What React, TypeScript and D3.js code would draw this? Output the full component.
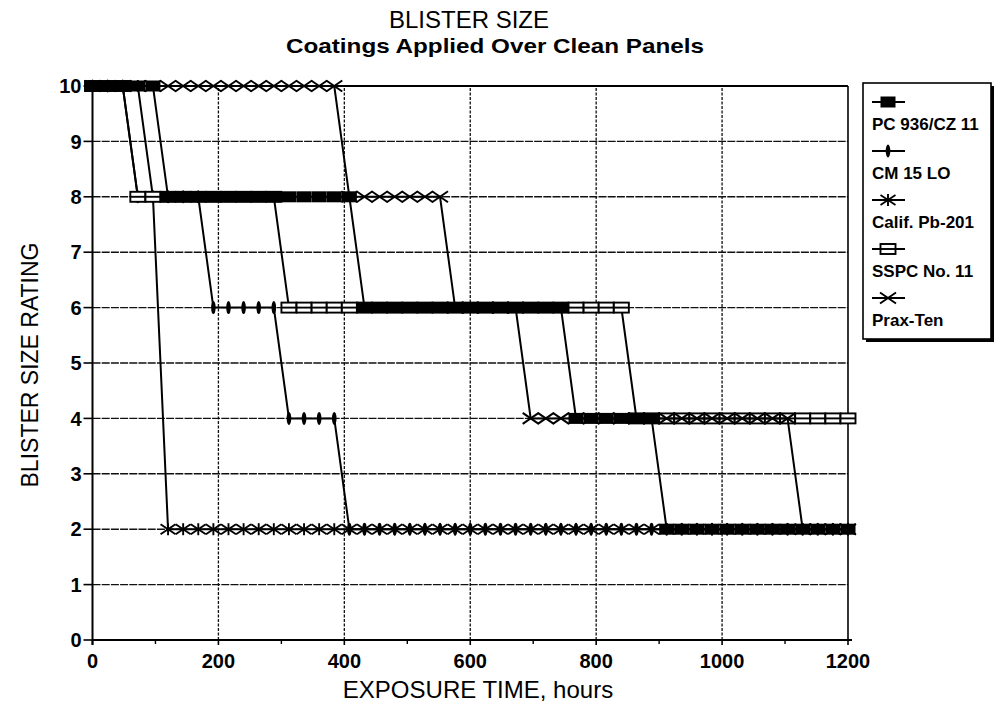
import React from 'react';
import * as d3 from 'd3';

// Measurement times (hours)
const hours = [0, 24, 48, 72, 96, 120, 144, 168, 192, 216, 240, 264, 288, 312, 336, 360, 384, 408, 432, 456, 480, 504, 528, 552, 576, 600, 624, 648, 672, 696, 720, 744, 768, 792, 816, 840, 864, 888, 912, 936, 960, 984, 1008, 1032, 1056, 1080, 1104, 1128, 1152, 1176, 1200];

// Blister size ratings at each measurement time
const pc936 = [10, 10, 10, 10, 10, 8, 8, 8, 8, 8, 8, 8, 8, 8, 8, 8, 8, 8, 6, 6, 6, 6, 6, 6, 6, 6, 6, 6, 6, 6, 6, 6, 4, 4, 4, 4, 4, 4, 2, 2, 2, 2, 2, 2, 2, 2, 2, 2, 2, 2, 2];
const cm15 = [10, 10, 10, 8, 8, 8, 8, 8, 6, 6, 6, 6, 6, 4, 4, 4, 4, 2, 2, 2, 2, 2, 2, 2, 2, 2, 2, 2, 2, 2, 2, 2, 2, 2, 2, 2, 2, 2, 2, 2, 2, 2, 2, 2, 2, 2, 2, 2, 2, 2, 2];
const calif = [10, 10, 10, 10, 8, 2, 2, 2, 2, 2, 2, 2, 2, 2, 2, 2, 2, 2, 2, 2, 2, 2, 2, 2, 2, 2, 2, 2, 2, 2, 2, 2, 2, 2, 2, 2, 2, 2, 2, 2, 2, 2, 2, 2, 2, 2, 2, 2, 2, 2, 2];
const sspc = [10, 10, 10, 8, 8, 8, 8, 8, 8, 8, 8, 8, 8, 6, 6, 6, 6, 6, 6, 6, 6, 6, 6, 6, 6, 6, 6, 6, 6, 6, 6, 6, 6, 6, 6, 6, 4, 4, 4, 4, 4, 4, 4, 4, 4, 4, 4, 4, 4, 4, 4];
const praxTen = [10, 10, 10, 10, 10, 10, 10, 10, 10, 10, 10, 10, 10, 10, 10, 10, 10, 8, 8, 8, 8, 8, 8, 8, 6, 6, 6, 6, 6, 4, 4, 4, 4, 4, 4, 4, 4, 4, 4, 4, 4, 4, 4, 4, 4, 4, 4, 2, 2, 2, 2];

const seriesNames = ['PC 936/CZ 11', 'CM 15 LO', 'Calif. Pb-201', 'SSPC No. 11', 'Prax-Ten'];
const seriesMarkers = ['filledRect', 'plus', 'asterisk', 'openRect', 'bowtie'];
const seriesValues = [pc936, cm15, calif, sspc, praxTen];
const drawOrder = [2, 1, 3, 4, 0];

const xTicks = [0, 200, 400, 600, 800, 1000, 1200];
const xMinorTicks = [100, 300, 500, 700, 900, 1100];
const yTicks = [0, 1, 2, 3, 4, 5, 6, 7, 8, 9, 10];

const W = 996;
const H = 706;
const FONT = '"Liberation Sans", Arial, Helvetica, sans-serif';

function Marker({ type, cx, cy }: { type: string; cx: number; cy: number }) {
  const k = '#000';
  switch (type) {
    case 'filledRect':
      return <rect x={cx - 7.5} y={cy - 5.5} width={15} height={11} fill={k} />;
    case 'plus':
      return <ellipse cx={cx} cy={cy} rx={2.3} ry={6.5} fill={k} />;
    case 'asterisk':
      return (
        <g stroke={k} strokeWidth={1.9} fill="none">
          <line x1={cx - 7.5} y1={cy - 5} x2={cx + 7.5} y2={cy + 5} />
          <line x1={cx - 7.5} y1={cy + 5} x2={cx + 7.5} y2={cy - 5} />
          <line x1={cx} y1={cy - 6} x2={cx} y2={cy + 6} />
        </g>
      );
    case 'openRect':
      return (
        <g>
          <rect x={cx - 7.5} y={cy - 5} width={15} height={10} fill="#fff" stroke={k} strokeWidth={1.9} />
          <line x1={cx - 7.5} y1={cy} x2={cx + 7.5} y2={cy} stroke={k} strokeWidth={1.9} />
        </g>
      );
    case 'bowtie':
      return (
        <g stroke={k} strokeWidth={2} fill="none">
          <line x1={cx - 8} y1={cy - 5.5} x2={cx + 8} y2={cy + 5.5} />
          <line x1={cx - 8} y1={cy + 5.5} x2={cx + 8} y2={cy - 5.5} />
        </g>
      );
    default:
      return null;
  }
}

export default function App() {
  const x = d3.scaleLinear().domain([0, 1200]).range([92.5, 848]);
  const y = d3.scaleLinear().domain([0, 10]).range([640, 86]);
  const line = d3
    .line<number>()
    .x((_, i) => x(hours[i]))
    .y((d) => y(d));

  const x0 = x(0);
  const x1 = x(1200);
  const y0 = y(0);
  const y1 = y(10);

  const legendX = 863;
  const legendY = 83;
  const legendW = 128;
  const legendH = 256;

  return (
    <svg
      width={W}
      height={H}
      viewBox={`0 0 ${W} ${H}`}
      style={{ position: 'absolute', left: 0, top: 0, background: '#fff' }}
      fontFamily={FONT}
    >
      <rect x={0} y={0} width={W} height={H} fill="#fff" />

      {/* Titles */}
      <text x={469} y={28} textAnchor="middle" fontSize={24} fill="#000">
        BLISTER SIZE
      </text>
      <text
        x={495}
        y={53}
        textAnchor="middle"
        fontSize={21}
        fontWeight="bold"
        fill="#000"
        textLength={418}
        lengthAdjust="spacingAndGlyphs"
      >
        Coatings Applied Over Clean Panels
      </text>

      {/* Grid */}
      {yTicks
        .filter((t) => t > 0 && t < 10)
        .map((t) => (
          <line
            key={'gy' + t}
            x1={x0}
            x2={x1}
            y1={y(t)}
            y2={y(t)}
            stroke="#111"
            strokeWidth={1.4}
            strokeDasharray="8 1.2"
          />
        ))}
      {xTicks
        .filter((t) => t > 0 && t < 1200)
        .map((t) => (
          <line
            key={'gx' + t}
            x1={x(t)}
            x2={x(t)}
            y1={y0}
            y2={y1}
            stroke="#111"
            strokeWidth={1.3}
            strokeDasharray="3 1.5"
          />
        ))}

      {/* Frame */}
      <line x1={x0} x2={x1} y1={y1} y2={y1} stroke="#000" strokeWidth={2} />
      <line x1={x1} x2={x1} y1={y1} y2={y0} stroke="#000" strokeWidth={1.6} />

      {/* Axes */}
      <line x1={x0} x2={x0} y1={y0 + 5} y2={y1} stroke="#000" strokeWidth={2} />
      <line x1={x0} x2={x1 + 4} y1={y0} y2={y0} stroke="#000" strokeWidth={2} />
      {yTicks.map((t) => (
        <g key={'yt' + t}>
          <line x1={x0 - 9} x2={x0} y1={y(t)} y2={y(t)} stroke="#000" strokeWidth={1.6} />
          <text x={x0 - 11} y={y(t)} dy="0.36em" textAnchor="end" fontSize={20} fontWeight="bold" fill="#000">
            {t}
          </text>
        </g>
      ))}
      {xTicks.map((t) => (
        <g key={'xt' + t}>
          <line x1={x(t)} x2={x(t)} y1={y0} y2={y0 + 5} stroke="#000" strokeWidth={1.6} />
          <text x={x(t)} y={y0 + 28} textAnchor="middle" fontSize={20} fontWeight="bold" fill="#000">
            {t}
          </text>
        </g>
      ))}
      {xMinorTicks.map((t) => (
        <line key={'xm' + t} x1={x(t)} x2={x(t)} y1={y0} y2={y0 + 4} stroke="#000" strokeWidth={1.4} />
      ))}

      {/* Axis titles */}
      <text x={478} y={698} textAnchor="middle" fontSize={24} fill="#000">
        EXPOSURE TIME, hours
      </text>
      <text transform="translate(38,365) rotate(-90)" textAnchor="middle" fontSize={23} fill="#000">
        BLISTER SIZE RATING
      </text>

      {/* Series */}
      {drawOrder.map((si) => {
        const vals = seriesValues[si];
        return (
          <g key={'s' + si}>
            <path d={line(vals) || ''} fill="none" stroke="#000" strokeWidth={2} />
            {vals.map((v, i) => (
              <Marker key={i} type={seriesMarkers[si]} cx={x(hours[i])} cy={y(v)} />
            ))}
          </g>
        );
      })}

      {/* Legend */}
      <rect x={legendX + 3} y={legendY + 3} width={legendW} height={legendH} fill="#000" />
      <rect x={legendX} y={legendY} width={legendW} height={legendH} fill="#fff" stroke="#000" strokeWidth={1.6} />
      {seriesNames.map((name, i) => {
        const my = 102 + i * 49;
        return (
          <g key={'lg' + i}>
            <line x1={legendX + 9} x2={legendX + 42} y1={my} y2={my} stroke="#000" strokeWidth={2} />
            <Marker type={seriesMarkers[i]} cx={legendX + 25} cy={my} />
            <text x={legendX + 9} y={my + 28} fontSize={17} fontWeight="bold" fill="#000">
              {name}
            </text>
          </g>
        );
      })}
    </svg>
  );
}
